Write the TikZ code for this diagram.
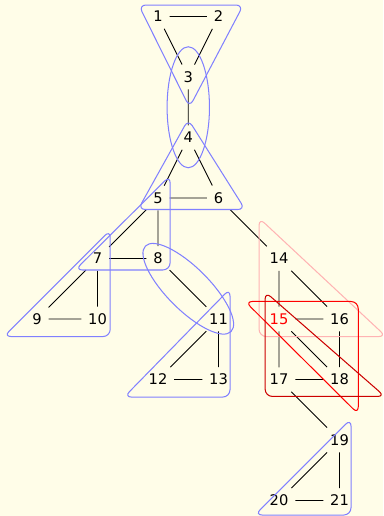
\documentclass[tikz,border=0pt]{standalone}
\usepackage{fontspec}
\setmainfont{DejaVu Sans}
\usetikzlibrary{calc}
\definecolor{paper}{HTML}{FFFDE8}
\definecolor{hypblue}{HTML}{8080FF}
\definecolor{hyppink}{HTML}{FFB3B3}
\definecolor{hypred}{HTML}{FF0000}
\definecolor{hypdark}{HTML}{CC0000}

\begin{document}
\begin{tikzpicture}[x=1.45cm, y=1.45cm,
  vtx/.style={inner sep=4.5pt, font=\fontsize{10}{12}\selectfont},
  edge/.style={line width=0.6pt, black},
  hyp/.style={line width=0.7pt, rounded corners=5pt}
]
  \useasboundingbox[fill=paper] (-0.612,0.273) rectangle (5.719,-8.256);

  \node[vtx] (n1) at (2,0) {1};
  \node[vtx] (n2) at (3,0) {2};
  \node[vtx] (n3) at (2.5,-1) {3};
  \node[vtx] (n4) at (2.5,-2) {4};
  \node[vtx] (n5) at (2,-3) {5};
  \node[vtx] (n6) at (3,-3) {6};
  \node[vtx] (n7) at (1,-4) {7};
  \node[vtx] (n8) at (2,-4) {8};
  \node[vtx] (n9) at (0,-5) {9};
  \node[vtx] (n10) at (1,-5) {10};
  \node[vtx] (n11) at (3,-5) {11};
  \node[vtx] (n12) at (2,-6) {12};
  \node[vtx] (n13) at (3,-6) {13};
  \node[vtx] (n14) at (4,-4) {14};
  \node[vtx, hypred] (n15) at (4,-5) {15};
  \node[vtx] (n16) at (5,-5) {16};
  \node[vtx] (n17) at (4,-6) {17};
  \node[vtx] (n18) at (5,-6) {18};
  \node[vtx] (n19) at (5,-7) {19};
  \node[vtx] (n20) at (4,-8) {20};
  \node[vtx] (n21) at (5,-8) {21};

  % graph edges
  \draw[edge] (n1) -- (n2) (n1) -- (n3) (n2) -- (n3) (n3) -- (n4);
  \draw[edge] (n4) -- (n5) (n4) -- (n6) (n5) -- (n6) (n6) -- (n14);
  \draw[edge] (n5) -- (n7) (n5) -- (n8) (n7) -- (n8) (n8) -- (n11);
  \draw[edge] (n7) -- (n9) (n7) -- (n10) (n9) -- (n10);
  \draw[edge] (n11) -- (n12) (n11) -- (n13) (n12) -- (n13);
  \draw[edge] (n14) -- (n15) (n14) -- (n16) (n15) -- (n16);
  \draw[edge] (n15) -- (n17) (n15) -- (n18) (n16) -- (n18) (n17) -- (n18);
  \draw[edge] (n17) -- (n19) (n19) -- (n20) (n19) -- (n21) (n20) -- (n21);

  % hyperedges
  \coordinate (c34) at ($(n3)!0.5!(n4)$);
  \coordinate (c811) at ($(n8)!0.5!(n11)$);
  \draw[hyp, hypblue] ($(n1)+(-0.32,0.19)$) -- ($(n2)+(0.41,0.19)$) -- ($(n3)+(0.02,-0.5)$) -- cycle;
  \draw[hyp, hypblue] (c34) ellipse [x radius=0.35, y radius=1];
  \draw[hyp, hypblue] ($(n4)+(0,0.3)$) -- ($(n6)+(0.44,-0.19)$) -- ($(n5)+(-0.33,-0.19)$) -- cycle;
  \draw[hyp, hypblue] ($(n5)+(0.2,0.37)$) -- ($(n8)+(0.2,-0.19)$) -- ($(n7)+(-0.37,-0.19)$) -- cycle;
  \draw[hyp, hypblue] ($(n7)+(0.21,0.47)$) -- ($(n10)+(0.21,-0.29)$) -- ($(n9)+(-0.55,-0.29)$) -- cycle;
  \draw[hyp, hypblue, rotate around={-45:(c811)}] (c811) ellipse [x radius=1, y radius=0.35];
  \draw[hyp, hypblue] ($(n11)+(0.19,0.5)$) -- ($(n13)+(0.19,-0.29)$) -- ($(n12)+(-0.56,-0.29)$) -- cycle;
  \draw[hyp, hypblue] ($(n19)+(0.19,0.35)$) -- ($(n21)+(0.19,-0.24)$) -- ($(n20)+(-0.4,-0.24)$) -- cycle;
  \draw[hyp, hyppink] ($(n14)+(-0.33,0.67)$) -- ($(n16)+(0.77,-0.29)$) -- ($(n15)+(-0.33,-0.29)$) -- cycle;
  \draw[hyp, hypred] ($(n15)+(-0.56,0.29)$) -- ($(n16)+(0.31,0.29)$) -- ($(n18)+(0.31,-0.57)$) -- cycle;
  \draw[hyp, hypdark] ($(n15)+(-0.23,0.45)$) -- ($(n18)+(0.75,-0.28)$) -- ($(n17)+(-0.23,-0.28)$) -- cycle;
\end{tikzpicture}
\end{document}
